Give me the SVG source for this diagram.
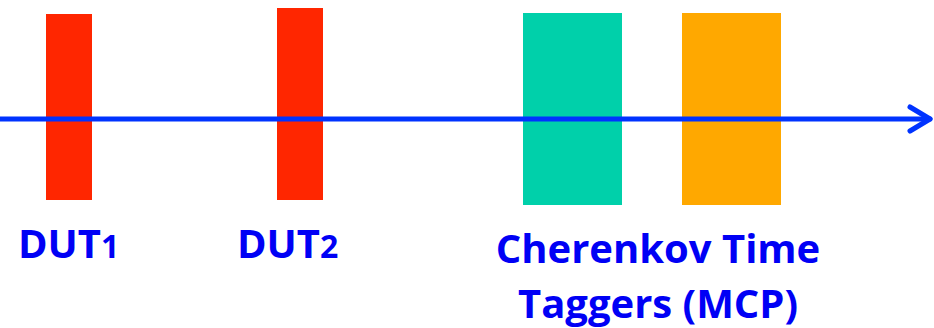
<svg xmlns="http://www.w3.org/2000/svg" width="934" height="328" viewBox="0 0 934 328">
<style>
.lbl{font-family:"Open Sans",Lato,"Liberation Sans",sans-serif;font-weight:bold;font-size:40px;fill:#0000F5}
.num{font-size:32px}
.beam{stroke:#0033FF;stroke-width:5;fill:none;stroke-linecap:round;stroke-linejoin:round}
</style>
<rect width="934" height="328" fill="#fff"/>
<g id="dut1"><rect x="46" y="14" width="46" height="186" fill="#FF2600"/><text class="lbl" x="18" y="258">DUT<tspan class="num">1</tspan></text></g>
<g id="dut2"><rect x="277" y="8" width="46" height="192" fill="#FF2600"/><text class="lbl" x="237" y="258">DUT<tspan class="num">2</tspan></text></g>
<g id="cherenkov"><rect x="523" y="13" width="99" height="192" fill="#00D0AA"/><rect x="682" y="13" width="99" height="192" fill="#FFA800"/>
<text class="lbl" x="658" y="263" text-anchor="middle">Cherenkov Time</text>
<text class="lbl" x="658" y="318" text-anchor="middle">Taggers (MCP)</text></g>
<g id="connectors"><path class="beam" d="M0 119H930"/><path class="beam" d="M910 107L930 119L910 131"/></g>
</svg>
